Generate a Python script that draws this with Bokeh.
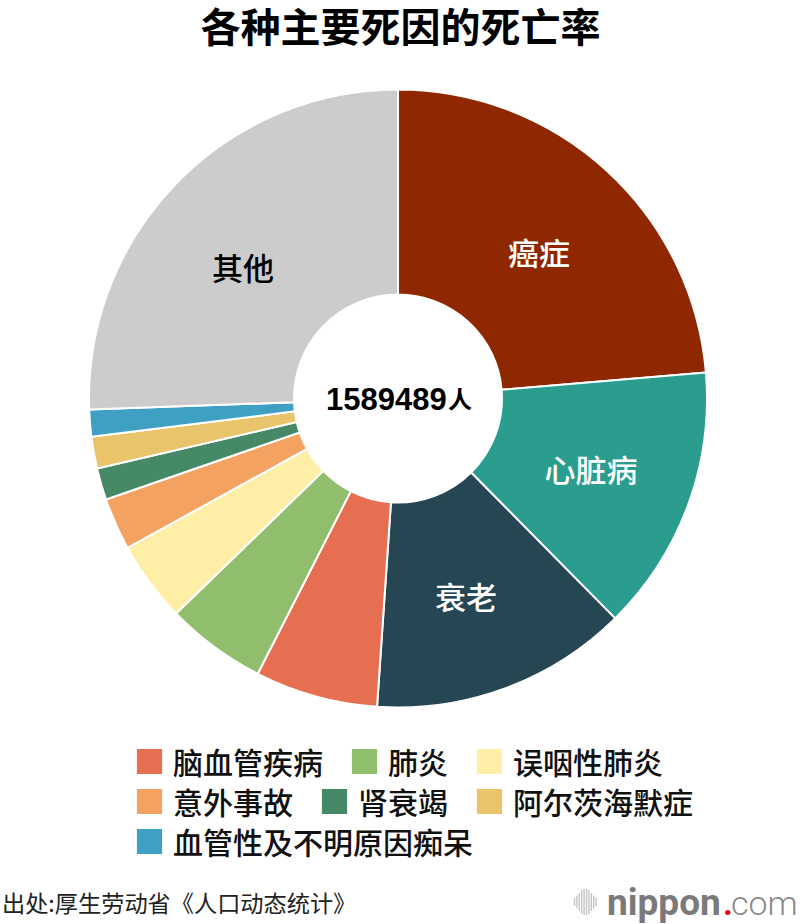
from math import pi

from bokeh.core.properties import value
from bokeh.embed import file_html
from bokeh.models import Legend, LegendItem, Range1d
from bokeh.plotting import figure
from bokeh.resources import INLINE

CJK = "Noto Sans CJK SC"
CJK_MEDIUM = "Noto Sans CJK SC Medium"

# share of all deaths, percent
causes = ["癌症", "心脏病", "衰老", "脑血管疾病", "肺炎", "误咽性肺炎", "意外事故",
          "肾衰竭", "阿尔茨海默症", "血管性及不明原因痴呆", "其他"]
shares = [23.66, 13.94, 13.48, 6.42, 5.25, 4.22, 2.73, 1.66, 1.67, 1.40, 25.57]
colors = ["#8f2800", "#2a9d8f", "#264653", "#e76f51", "#90be6d", "#ffeea6", "#f4a261",
          "#468966", "#e9c46a", "#3fa0c4", "#cccccc"]
total = "1589489"

legend_rows = [
    ["脑血管疾病", "肺炎", "误咽性肺炎"],
    ["意外事故", "肾衰竭", "阿尔茨海默症"],
    ["血管性及不明原因痴呆"],
]
logo_bars = [8, 13, 18, 24, 26, 26, 24, 18, 13, 8]

p = figure(width=800, height=924, output_backend="svg", toolbar_location=None,
           x_range=Range1d(-397.5, 402.5), y_range=Range1d(-526, 398),
           min_border=0, outline_line_color=None,
           styles={"position": "absolute", "left": "0px", "top": "0px"})
p.axis.visible = False
p.grid.visible = False

# wedges clockwise from twelve o'clock
renderers = {}
start = pi / 2
for cause, share, color in zip(causes, shares, colors):
    end = start - share / 100 * 2 * pi
    renderers[cause] = p.annular_wedge(
        x=[0], y=[0], inner_radius=[104], outer_radius=[309],
        start_angle=[end], end_angle=[start],
        fill_color=color, line_color="white", line_width=2)
    start = end

# slice labels sit a bit off the ring centre in the original, so placed by hand
p.text(x=[141, 193, 68, -155], y=[147, -70, -197, 132],
       text=["癌症", "心脏病", "衰老", "其他"],
       text_color=["white", "white", "white", "black"], text_font=value(CJK_MEDIUM),
       text_font_size="31px", text_align="center", text_baseline="middle")

p.text(x=[-72], y=[0], text=[total], text_font=value("Liberation Sans"),
       text_font_style="bold", text_font_size="31px", text_color="black",
       text_baseline="alphabetic")
p.text(x=[50], y=[1], text=["人"], text_font=value(CJK), text_font_style="bold",
       text_font_size="24px", text_color="black", text_baseline="middle")

p.text(x=[2.5], y=[374], text=["各种主要死因的死亡率"], text_font=value(CJK),
       text_font_style="bold", text_font_size="40px", text_color="black",
       text_align="center", text_baseline="middle")
p.text(x=[-396], y=[-503], text=["出处:厚生劳动省《人口动态统计》"], text_font=value(CJK),
       text_font_size="23.2px", text_color="#222222", text_baseline="middle")

# one legend per row, rows are not column aligned in the original
for row, (lx, ly) in zip(legend_rows, [(132, 141), (132, 101), (132, 61)]):
    items = [LegendItem(label=name, renderers=[renderers[name]]) for name in row]
    legend = Legend(items=items, location=(lx, ly), orientation="horizontal",
                    glyph_width=34, glyph_height=34, label_standoff=7, spacing=24,
                    label_text_font=CJK_MEDIUM, label_text_font_size="30px",
                    label_text_color="#111111", background_fill_alpha=0,
                    border_line_color=None, padding=0, margin=0)
    p.add_layout(legend)

# nippon.com mark
for i, h in enumerate(logo_bars):
    xb = 176.5 + i * 2.4
    p.segment(x0=[xb], y0=[-503.5 - h / 2], x1=[xb], y1=[-503.5 + h / 2],
              line_color="#c4c4c4", line_width=1.4)
p.text(x=[209], y=[-504], text=["nippon"], text_font=value("Roboto"), text_font_style="bold",
       text_font_size="37px", text_color="#7a7a7a", text_baseline="alphabetic")
p.text(x=[325], y=[-504], text=["."], text_font=value("Roboto"), text_font_style="bold",
       text_font_size="34px", text_color="#e60012", text_baseline="alphabetic")
p.text(x=[333], y=[-504], text=["com"], text_font=value("Roboto Light"),
       text_font_size="34px", text_color="#8a8a8a", text_baseline="alphabetic")

open("out.html", "w").write(file_html(p, INLINE))
